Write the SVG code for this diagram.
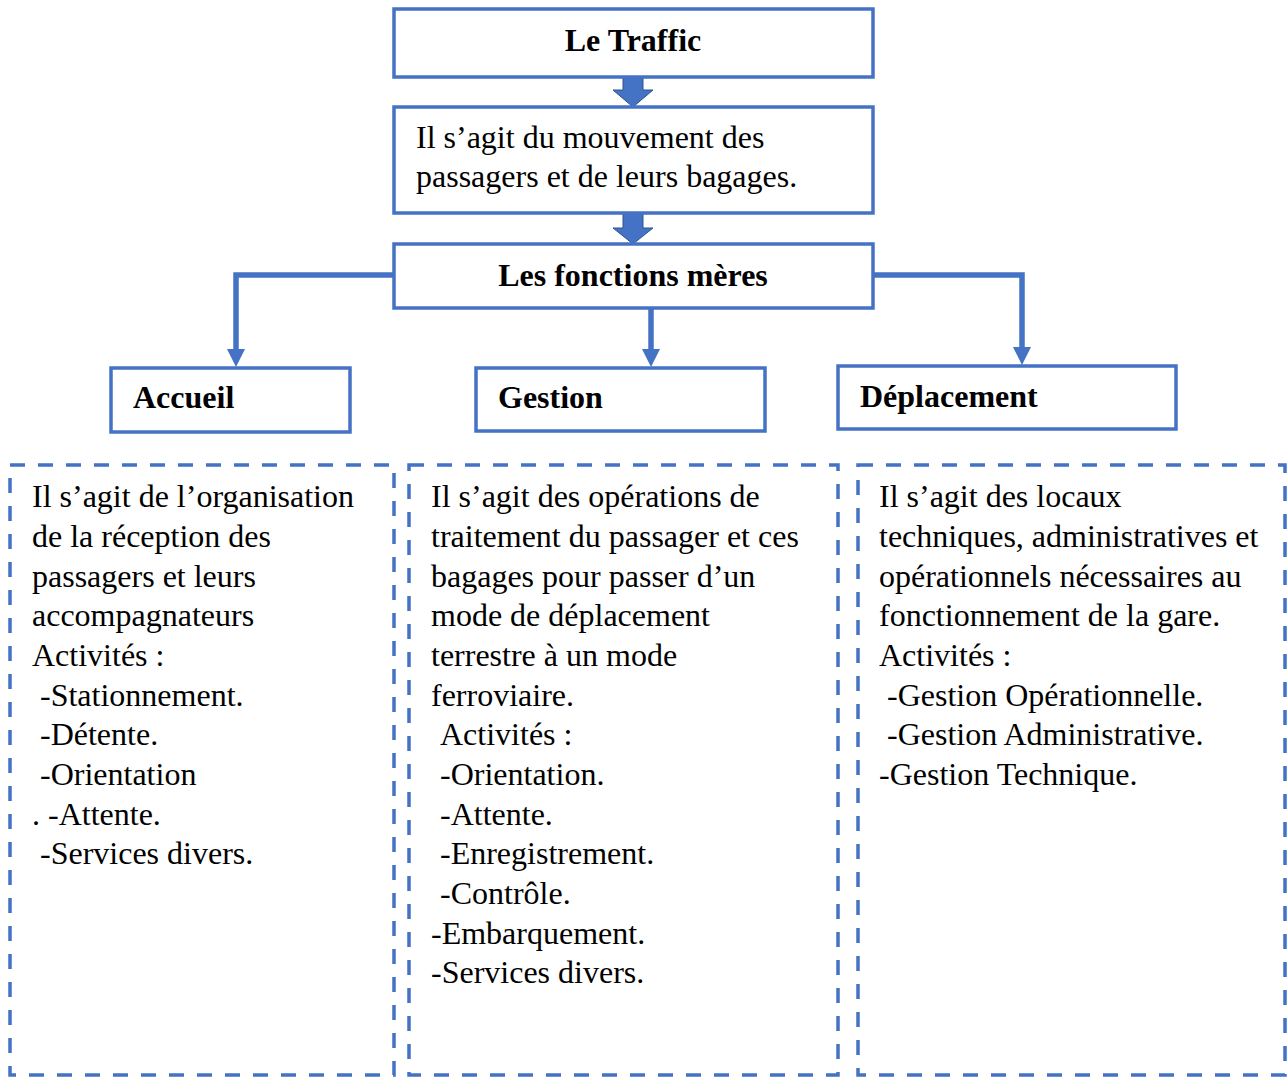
<svg xmlns="http://www.w3.org/2000/svg" width="1287" height="1077" viewBox="0 0 1287 1077">
  <style>
    .box { fill: #ffffff; stroke: #4472C4; stroke-width: 3.5; }
    .dash { fill: none; stroke: #4472C4; stroke-width: 3.5; stroke-dasharray: 15 13; }
    .wire { fill: none; stroke: #4472C4; stroke-width: 5.5; }
    .tip { fill: #4472C4; }
    .block { fill: #4472C4; stroke: #2F528F; stroke-width: 1; }
    .t { font-family: "Liberation Serif", "Times New Roman", serif; font-size: 32px; fill: #000000; }
    .b { font-weight: bold; }
    .c { text-anchor: middle; }
  </style>
  <rect width="1287" height="1077" fill="#ffffff"/>

  <!-- connectors -->
  <g id="connectors">
    <!-- block arrows between the top boxes -->
    <path class="block" d="M623,77 L643,77 L643,90 L653,90 L633,107 L613,90 L623,90 Z"/>
    <path class="block" d="M623,213 L643,213 L643,228 L653,228 L633,244 L613,228 L623,228 Z"/>
    <!-- branches to the three functions -->
    <path class="wire" d="M393,275 L236,275 L236,351"/>
    <path class="tip" d="M227,349 L245,349 L236,367 Z"/>
    <path class="wire" d="M651,308 L651,351"/>
    <path class="tip" d="M642,349 L660,349 L651,367 Z"/>
    <path class="wire" d="M873,275 L1022,275 L1022,349"/>
    <path class="tip" d="M1013,347 L1031,347 L1022,365 Z"/>
  </g>

  <g id="traffic">
    <rect class="box" x="394" y="9" width="479" height="68"/>
    <text class="t b c" x="633" y="51">Le Traffic</text>
  </g>

  <g id="definition">
    <rect class="box" x="394" y="107" width="479" height="106"/>
    <text class="t" x="416" y="148">Il s’agit du mouvement des</text>
    <text class="t" x="416" y="187">passagers et de leurs bagages.</text>
  </g>

  <g id="fonctions">
    <rect class="box" x="394" y="244" width="479" height="64"/>
    <text class="t b c" x="633" y="286">Les fonctions mères</text>
  </g>

  <g id="accueil">
    <rect class="box" x="111" y="368" width="239" height="64"/>
    <text class="t b" x="133" y="408">Accueil</text>
  </g>

  <g id="gestion">
    <rect class="box" x="476" y="368" width="289" height="63"/>
    <text class="t b" x="498" y="408">Gestion</text>
  </g>

  <g id="deplacement">
    <rect class="box" x="838" y="366" width="338" height="63"/>
    <text class="t b" x="860" y="407">Déplacement</text>
  </g>

  <g id="accueil-detail">
    <rect class="dash" x="10" y="465" width="384" height="610"/>
    <text class="t" x="32" y="507">Il s’agit de l’organisation</text>
    <text class="t" x="32" y="547">de la réception des</text>
    <text class="t" x="32" y="586.5">passagers et leurs</text>
    <text class="t" x="32" y="626">accompagnateurs</text>
    <text class="t" x="32" y="666">Activités :</text>
    <text class="t" x="40" y="705.5">-Stationnement.</text>
    <text class="t" x="40" y="745">-Détente.</text>
    <text class="t" x="40" y="785">-Orientation</text>
    <text class="t" x="32" y="824.5">. -Attente.</text>
    <text class="t" x="40" y="864">-Services divers.</text>
  </g>

  <g id="gestion-detail">
    <rect class="dash" x="409" y="465" width="429" height="610"/>
    <text class="t" x="431" y="507">Il s’agit des opérations de</text>
    <text class="t" x="431" y="547">traitement du passager et ces</text>
    <text class="t" x="431" y="586.5">bagages pour passer d’un</text>
    <text class="t" x="431" y="626">mode de déplacement</text>
    <text class="t" x="431" y="666">terrestre à un mode</text>
    <text class="t" x="431" y="705.5">ferroviaire.</text>
    <text class="t" x="440" y="745">Activités :</text>
    <text class="t" x="440" y="785">-Orientation.</text>
    <text class="t" x="440" y="824.5">-Attente.</text>
    <text class="t" x="440" y="864">-Enregistrement.</text>
    <text class="t" x="440" y="904">-Contrôle.</text>
    <text class="t" x="431" y="943.5">-Embarquement.</text>
    <text class="t" x="431" y="983">-Services divers.</text>
  </g>

  <g id="deplacement-detail">
    <rect class="dash" x="858" y="465" width="427" height="610"/>
    <text class="t" x="879" y="507">Il s’agit des locaux</text>
    <text class="t" x="879" y="547">techniques, administratives et</text>
    <text class="t" x="879" y="586.5">opérationnels nécessaires au</text>
    <text class="t" x="879" y="626">fonctionnement de la gare.</text>
    <text class="t" x="879" y="666">Activités :</text>
    <text class="t" x="887" y="705.5">-Gestion Opérationnelle.</text>
    <text class="t" x="887" y="745">-Gestion Administrative.</text>
    <text class="t" x="879" y="785">-Gestion Technique.</text>
  </g>
</svg>
